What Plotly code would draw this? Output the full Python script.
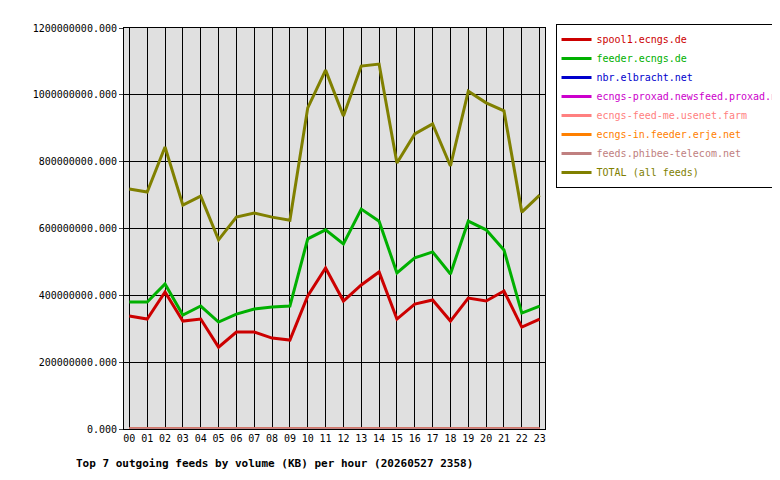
import plotly.graph_objects as go

hours = [f"{h:02d}" for h in range(24)]
total = [718,709,844,670,697,566,634,646,634,625,961,1074,937,1086,1092,796,883,913,787,1011,976,952,649,700]
feeder = [380,380,434,341,368,320,344,359,365,368,569,596,554,658,622,467,512,530,464,622,596,536,347,368]
spool1 = [338,329,410,323,329,245,290,290,272,266,398,482,383,431,470,329,374,386,323,392,383,413,305,329]
zeros = [0]*24
names = ["spool1.ecngs.de","feeder.ecngs.de","nbr.elbracht.net","ecngs-proxad.newsfeed.proxad.net",
         "ecngs-feed-me.usenet.farm","ecngs-in.feeder.erje.net","feeds.phibee-telecom.net","TOTAL (all feeds)"]
colors = ["#cc0000","#00b000","#0000cc","#cc00cc","#ff8080","#ff8000","#c08080","#808000"]
series = [spool1, feeder, zeros, zeros, zeros, zeros, zeros, total]

fig = go.Figure()
idx = list(range(24))
for n, c, s in zip(names, colors, series):
    fig.add_trace(go.Scatter(x=idx, y=[v*1e6 for v in s], name=f"<span style='color:{c}'>{n}</span>",
                             mode="lines", line=dict(color=c, width=3)))

fnt = "DejaVu Sans Mono"
fig.update_layout(
    width=780, height=480, paper_bgcolor="white", plot_bgcolor="#e0e0e0",
    margin=dict(l=116, r=243, t=20, b=59, autoexpand=False),
    font=dict(family=fnt, size=10, color="black"),
    legend=dict(x=1.025, y=1.01, xanchor="left", yanchor="top", bordercolor="black",
                borderwidth=1, bgcolor="white", tracegroupgap=0, itemwidth=30,
                font=dict(family=fnt, size=10)),
    xaxis=dict(tickvals=idx, ticktext=hours, range=[-0.3, 23.3], showgrid=True,
               gridcolor="black", gridwidth=1, showline=True, linecolor="black", mirror=True,
               ticks="", zeroline=False),
    yaxis=dict(range=[0, 1.2e9], dtick=2e8, tickformat=".3f", showgrid=True,
               gridcolor="black", showline=True, linecolor="black", mirror=True,
               zeroline=False, ticks="outside", ticklen=4),
    annotations=[dict(text="<b>Top 7 outgoing feeds by volume (KB) per hour (20260527 2358)</b>",
                      x=0.0, xref="paper", xanchor="left", xshift=-50, y=-0.065, yref="paper",
                      yanchor="top", showarrow=False, font=dict(family=fnt, size=11))],
)
fig.write_html("out.html")
